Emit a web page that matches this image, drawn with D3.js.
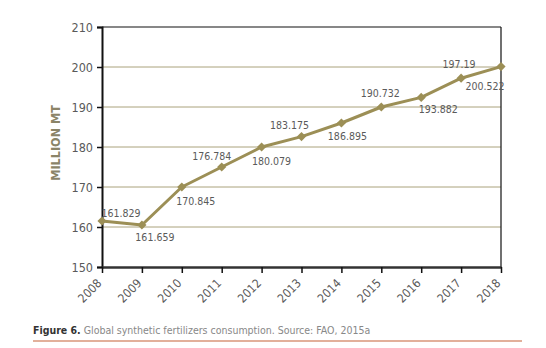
<!DOCTYPE html>
<html>
<head>
<meta charset="utf-8">
<script src="https://cdn.jsdelivr.net/npm/d3@7"></script>
<style>
  body { margin: 0; background: #fff; }
  text { font-family: "DejaVu Sans", sans-serif; font-stretch: condensed; }
</style>
</head>
<body>
<div id="chart"></div>
<script>
// data
var years = [2008, 2009, 2010, 2011, 2012, 2013, 2014, 2015, 2016, 2017, 2018];
var values = [161.5, 160.5, 170, 175, 180, 182.6, 186, 190, 192.4, 197.2, 200.1];
var valueLabels = ["161.829", "161.659", "170.845", "176.784", "180.079", "183.175",
                   "186.895", "190.732", "193.882", "197.19", "200.522"];
var yTicks = [150, 160, 170, 180, 190, 200, 210];

// where each value label sits relative to its point
var labelOffsets = [[19, -8], [13, 12], [14, 14], [-10, -11], [10, 14], [-12, -12],
                    [6, 13], [-1, -14], [17, 12], [-2, -14], [-16, 19]];

var W = 546, H = 348;
var margin = { top: 27, right: 45, bottom: 81, left: 102 };

var svg = d3.select("#chart").append("svg")
    .attr("width", W)
    .attr("height", H);

var x = d3.scaleLinear()
    .domain([2008, 2018])
    .range([margin.left, W - margin.right]);

var y = d3.scaleLinear()
    .domain([150, 210])
    .range([H - margin.bottom, margin.top]);

var olive = "#9c8f56";
var textGrey = "#5a5a5a";

// gridlines
svg.append("g")
    .selectAll("line")
    .data(yTicks.filter(function (d) { return d > 150 && d < 210; }))
    .enter().append("line")
    .attr("x1", x(2008)).attr("x2", x(2018))
    .attr("y1", function (d) { return y(d); })
    .attr("y2", function (d) { return y(d); })
    .attr("stroke", "#aaa27c")
    .attr("stroke-width", 1);

// top and right border
svg.append("line")
    .attr("x1", x(2008)).attr("x2", x(2018))
    .attr("y1", y(210)).attr("y2", y(210))
    .attr("stroke", "#111").attr("stroke-width", 1.2);
svg.append("line")
    .attr("x1", x(2018)).attr("x2", x(2018))
    .attr("y1", y(210)).attr("y2", y(150))
    .attr("stroke", "#111").attr("stroke-width", 1.2);

// y axis
var yAxis = svg.append("g")
    .attr("transform", "translate(" + x(2008) + ",0)")
    .call(d3.axisLeft(y).tickValues(yTicks).tickSize(5).tickPadding(4));
yAxis.select(".domain").attr("stroke", "#111").attr("stroke-width", 2);
yAxis.selectAll(".tick line").attr("stroke", "#111").attr("stroke-width", 1.5);
yAxis.selectAll(".tick text")
    .style("font-size", "12.5px")
    .attr("fill", textGrey);

// x axis
var xAxis = svg.append("g")
    .attr("transform", "translate(0," + y(150) + ")")
    .call(d3.axisBottom(x).tickValues(years).tickFormat(d3.format("d")).tickSize(6).tickSizeOuter(0));
xAxis.select(".domain").attr("stroke", "#333").attr("stroke-width", 2.5);
xAxis.selectAll(".tick line").attr("stroke", "#111").attr("stroke-width", 1.5);
xAxis.selectAll(".tick text")
    .style("font-size", "12px")
    .attr("fill", textGrey)
    .attr("text-anchor", "end")
    .attr("y", 0)
    .attr("dy", "0.35em")
    .attr("transform", "translate(-3,14) rotate(-45)");

// y axis title
svg.append("text")
    .attr("transform", "translate(55," + 143 + ") rotate(-90)")
    .attr("text-anchor", "middle")
    .attr("dominant-baseline", "central")
    .style("font-size", "12.5px")
    .style("font-weight", "bold")
    .attr("fill", "#8b8468")
    .text("MILLION MT");

// line
var pts = years.map(function (yr, i) { return [x(yr), y(values[i])]; });
svg.append("path")
    .attr("d", d3.line()(pts))
    .attr("fill", "none")
    .attr("stroke", olive)
    .attr("stroke-width", 3)
    .attr("stroke-linejoin", "round");

// diamond markers
svg.append("g")
    .selectAll("path")
    .data(pts)
    .enter().append("path")
    .attr("transform", function (d) { return "translate(" + d[0] + "," + d[1] + ") rotate(45)"; })
    .attr("d", d3.symbol().type(d3.symbolSquare).size(42))
    .attr("fill", olive);

// value labels
svg.append("g")
    .selectAll("text")
    .data(valueLabels)
    .enter().append("text")
    .attr("x", function (d, i) { return pts[i][0] + labelOffsets[i][0]; })
    .attr("y", function (d, i) { return pts[i][1] + labelOffsets[i][1]; })
    .attr("text-anchor", "middle")
    .attr("dominant-baseline", "central")
    .style("font-size", "10.5px")
    .attr("fill", textGrey)
    .text(function (d) { return d; });

// caption
var cap = svg.append("text")
    .attr("x", 33)
    .attr("y", 330)
    .attr("dominant-baseline", "central")
    .style("font-size", "10.5px");
cap.append("tspan")
    .style("font-weight", "bold")
    .attr("fill", "#333")
    .text("Figure 6.");
cap.append("tspan")
    .attr("fill", "#888")
    .text(" Global synthetic fertilizers consumption. Source: FAO, 2015a");

svg.append("line")
    .attr("x1", 33).attr("x2", 522)
    .attr("y1", 341).attr("y2", 341)
    .attr("stroke", "#d8967a")
    .attr("stroke-width", 1.5);
</script>
</body>
</html>
